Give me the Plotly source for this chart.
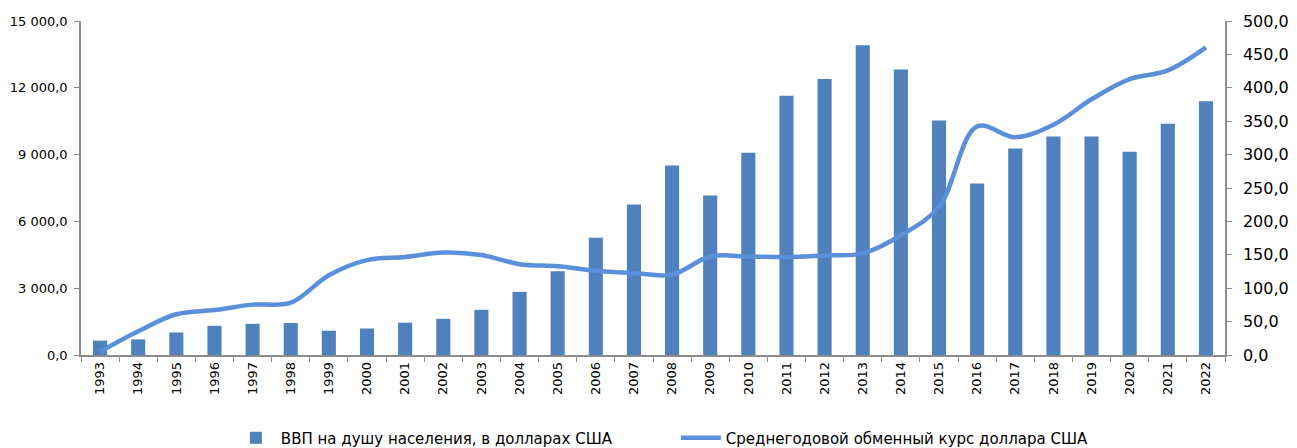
import plotly.graph_objects as go

years = [str(y) for y in range(1993, 2023)]
gdp_per_capita = [645, 700, 1010, 1310, 1400, 1435, 1090, 1190, 1450, 1625,
                  2030, 2835, 3760, 5270, 6755, 8510, 7160, 9080, 11640, 12400,
                  13915, 12820, 10530, 7700, 9270, 9810, 9810, 9125, 10380, 11400]
exchange_rate = [5.0, 35.5, 61.0, 67.3, 75.4, 78.3, 119.5, 142.1, 146.7, 153.3,
                 149.6, 136.0, 132.9, 126.1, 122.6, 120.3, 147.5, 147.4, 146.6, 149.1,
                 152.1, 179.2, 221.7, 342.2, 326.0, 344.7, 382.8, 412.9, 426.0, 460.5]

bar_name = "ВВП на душу населения, в долларах США"
line_name = "Среднегодовой обменный курс доллара США"

fig = go.Figure()
fig.add_trace(go.Bar(x=years, y=gdp_per_capita, name=bar_name,
                     marker=dict(color="#4F81BD", line=dict(width=0)), yaxis="y"))
fig.add_trace(go.Scatter(x=years, y=exchange_rate, name=line_name, mode="lines",
                         line=dict(color="#5A90DA", width=4.5, shape="spline", smoothing=1.0),
                         yaxis="y2"))

fig.update_layout(
    width=1289, height=440,
    margin=dict(l=73, r=72, t=13, b=93, autoexpand=False),
    paper_bgcolor="white", plot_bgcolor="white",
    separators=", ",
    bargap=0.63,
    showlegend=True,
    legend=dict(orientation="h", x=0.131, xanchor="left", y=-0.2485, yanchor="middle",
                font=dict(family="DejaVu Sans", size=15, color="#000000"),
                itemwidth=40, traceorder="normal",
                entrywidth=390, entrywidthmode="pixels"),
    xaxis=dict(type="category", showline=True, linecolor="#8C8C8C", linewidth=1.5,
               ticks="outside", ticklen=5, tickcolor="#8C8C8C", tickson="boundaries",
               tickangle=-90, tickfont=dict(family="DejaVu Sans", size=13, color="#000000"),
               showgrid=False, zeroline=False, automargin=False),
    yaxis=dict(range=[0, 15000], tickvals=[0, 3000, 6000, 9000, 12000, 15000],
               tickformat=",.1f", showline=True, linecolor="#8C8C8C", linewidth=1.5,
               ticks="outside", ticklen=5, tickcolor="#8C8C8C", showgrid=False,
               zeroline=False, automargin=False, ticklabelstandoff=4,
               tickfont=dict(family="DejaVu Sans", size=13, color="#000000")),
    yaxis2=dict(range=[0, 500], tickvals=list(range(0, 501, 50)), tickformat=".1f",
                overlaying="y", side="right", showline=True, linecolor="#8C8C8C",
                linewidth=1.5, ticks="outside", ticklen=5, tickcolor="#8C8C8C",
                showgrid=False, zeroline=False, automargin=False, ticklabelstandoff=8,
                tickfont=dict(family="DejaVu Sans", size=16, color="#000000")),
)

fig.write_html("out.html")
